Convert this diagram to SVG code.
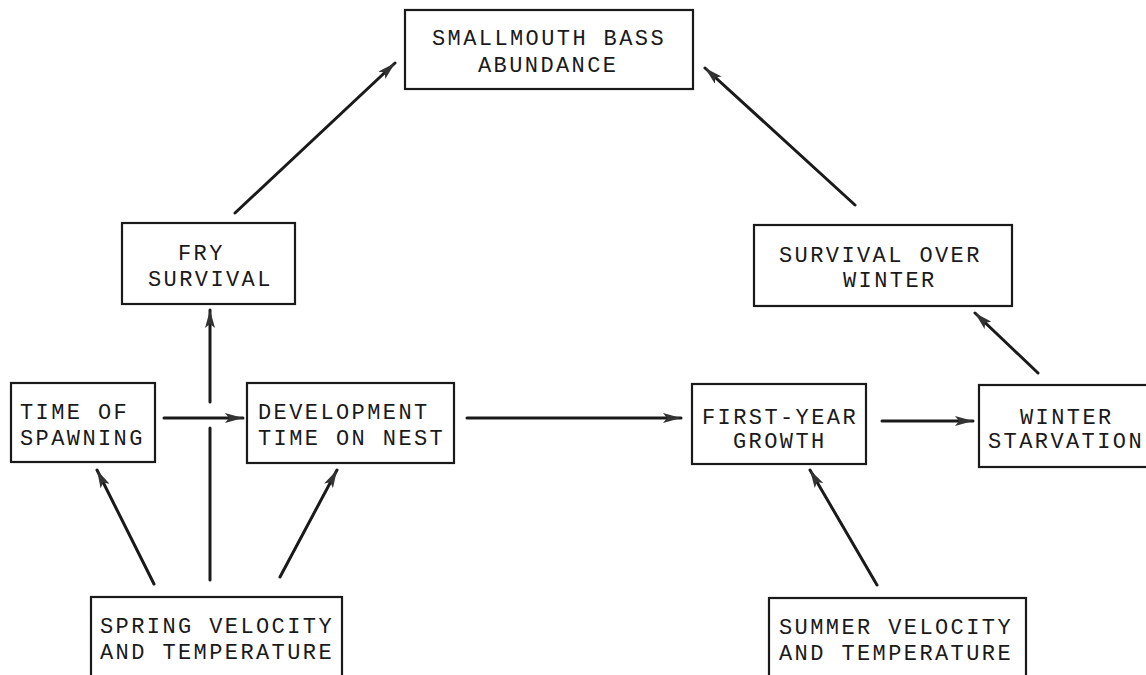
<svg xmlns="http://www.w3.org/2000/svg" width="1146" height="675" viewBox="0 0 1146 675">
<style>
.box{fill:#fff;stroke:#1a1a1a;stroke-width:2.2}
.t{font-family:"Liberation Mono","DejaVu Sans Mono",monospace;font-size:22px;letter-spacing:2.4px;fill:#1a1a1a}
.c{stroke:#1a1a1a;stroke-width:3;fill:none;stroke-linecap:round}
.a{marker-end:url(#ah)}
</style>
<defs>
<marker id="ah" markerUnits="userSpaceOnUse" viewBox="0 0 18 10" refX="18" refY="5" markerWidth="18" markerHeight="10" orient="auto">
<path d="M0,0 L18,5 L0,10 L4,5 Z" fill="#333"/>
</marker>
</defs>
<rect width="1146" height="675" fill="#fff"/>
<g id="connectors">
<line class="c a" x1="235" y1="213" x2="395" y2="63"/>
<line class="c a" x1="855" y1="205" x2="705" y2="68"/>
<line class="c a" x1="1038" y1="373" x2="975" y2="313"/>
<line class="c a" x1="164" y1="418" x2="243" y2="418"/>
<line class="c a" x1="467" y1="418" x2="681" y2="418"/>
<line class="c a" x1="882" y1="421" x2="973" y2="421"/>
<line class="c a" x1="154" y1="584" x2="97" y2="470"/>
<line class="c a" x1="280" y1="577" x2="337" y2="470"/>
<line class="c" x1="210" y1="580" x2="210" y2="428"/>
<line class="c a" x1="210" y1="402" x2="210" y2="310"/>
<line class="c a" x1="877" y1="585" x2="810" y2="470"/>
</g>
<g id="abundance">
<rect class="box" x="405" y="10" width="288" height="79"/>
<text class="t" x="432" y="45">SMALLMOUTH BASS</text>
<text class="t" x="478" y="72">ABUNDANCE</text>
</g>
<g id="fry-survival">
<rect class="box" x="122" y="223" width="173" height="81"/>
<text class="t" x="178" y="260">FRY</text>
<text class="t" x="148" y="286">SURVIVAL</text>
</g>
<g id="survival-over-winter">
<rect class="box" x="754" y="225" width="258" height="81"/>
<text class="t" x="779" y="262">SURVIVAL OVER</text>
<text class="t" x="843" y="287">WINTER</text>
</g>
<g id="time-of-spawning">
<rect class="box" x="11" y="383" width="144" height="79"/>
<text class="t" x="20" y="419">TIME OF</text>
<text class="t" x="20" y="445">SPAWNING</text>
</g>
<g id="development-time">
<rect class="box" x="247" y="383" width="207" height="80"/>
<text class="t" x="258" y="419">DEVELOPMENT</text>
<text class="t" x="258" y="445">TIME ON NEST</text>
</g>
<g id="first-year-growth">
<rect class="box" x="692" y="384" width="174" height="80"/>
<text class="t" x="702" y="424">FIRST-YEAR</text>
<text class="t" x="733" y="448">GROWTH</text>
</g>
<g id="winter-starvation">
<rect class="box" x="979" y="385" width="190" height="82"/>
<text class="t" x="1020" y="424">WINTER</text>
<text class="t" x="988" y="448">STARVATION</text>
</g>
<g id="spring-velocity">
<rect class="box" x="91" y="597" width="251" height="100"/>
<text class="t" x="100" y="633">SPRING VELOCITY</text>
<text class="t" x="100" y="659">AND TEMPERATURE</text>
</g>
<g id="summer-velocity">
<rect class="box" x="769" y="598" width="257" height="100"/>
<text class="t" x="779" y="634">SUMMER VELOCITY</text>
<text class="t" x="779" y="660">AND TEMPERATURE</text>
</g>
</svg>
